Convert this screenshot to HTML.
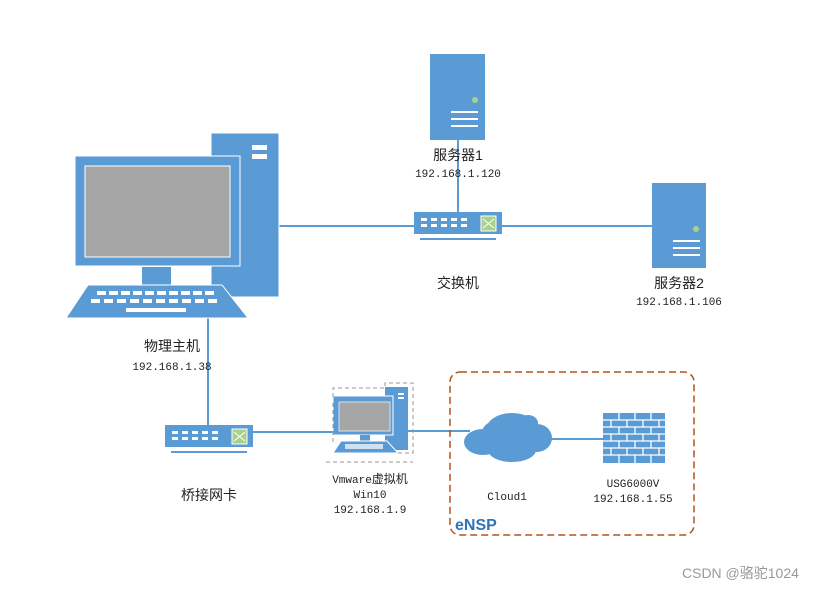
<!DOCTYPE html>
<html><head><meta charset="utf-8"><style>
body{margin:0;background:#fff}
svg text{font-family:"Liberation Mono","Noto Sans CJK SC",monospace;fill:#222}
.cn{font-family:"Liberation Sans","Noto Sans CJK SC",sans-serif;font-size:14px}
.ip{font-size:11px}
</style></head><body>
<svg width="830" height="590" xmlns="http://www.w3.org/2000/svg">
<g stroke="#5b9bd5" stroke-width="2" fill="none">
<line x1="279" y1="226" x2="652" y2="226"/>
<line x1="458" y1="140" x2="458" y2="212"/>
<line x1="208" y1="318" x2="208" y2="426"/>
<line x1="251" y1="432" x2="333" y2="432"/>
<line x1="408" y1="431" x2="470" y2="431"/>
<line x1="548" y1="439" x2="603" y2="439"/>
</g>
<!-- PC -->
<g fill="#5b9bd5">
<rect x="211" y="133" width="68" height="164" stroke="#fff" stroke-width="1"/>
<rect x="252" y="145" width="15" height="5" fill="#fff"/>
<rect x="252" y="154" width="15" height="5" fill="#fff"/>
<rect x="75" y="156" width="165" height="110" stroke="#fff" stroke-width="1"/>
<rect x="85" y="166" width="145" height="91" fill="#a5a5a5" stroke="#fff" stroke-width="1"/>
<rect x="142" y="267" width="29" height="18"/>
<polygon points="88,285 222,285 248,318 66,318" stroke="#fff" stroke-width="1"/>
</g>
<g fill="#fff">
<rect x="97" y="291" width="9" height="4"/><rect x="109" y="291" width="9" height="4"/><rect x="121" y="291" width="9" height="4"/><rect x="133" y="291" width="9" height="4"/><rect x="145" y="291" width="9" height="4"/><rect x="157" y="291" width="9" height="4"/><rect x="169" y="291" width="9" height="4"/><rect x="181" y="291" width="9" height="4"/><rect x="193" y="291" width="9" height="4"/><rect x="205" y="291" width="9" height="4"/>
<rect x="91" y="299" width="9" height="4"/><rect x="104" y="299" width="9" height="4"/><rect x="117" y="299" width="9" height="4"/><rect x="130" y="299" width="9" height="4"/><rect x="143" y="299" width="9" height="4"/><rect x="156" y="299" width="9" height="4"/><rect x="169" y="299" width="9" height="4"/><rect x="182" y="299" width="9" height="4"/><rect x="195" y="299" width="9" height="4"/><rect x="208" y="299" width="9" height="4"/>
<rect x="126" y="308" width="60" height="4"/>
</g>
<!-- servers -->
<g>
<rect x="430" y="54" width="55" height="86" fill="#5b9bd5"/>
<circle cx="475" cy="100" r="3" fill="#a9d18e"/>
<rect x="451" y="111" width="27" height="2" fill="#fff"/><rect x="451" y="118" width="27" height="2" fill="#fff"/><rect x="451" y="125" width="27" height="2" fill="#fff"/>
<rect x="652" y="183" width="54" height="85" fill="#5b9bd5"/>
<circle cx="696" cy="229" r="3" fill="#a9d18e"/>
<rect x="673" y="240" width="27" height="2" fill="#fff"/><rect x="673" y="247" width="27" height="2" fill="#fff"/><rect x="673" y="254" width="27" height="2" fill="#fff"/>
</g>
<!-- switches -->
<g id="sw">
<rect x="414" y="212" width="88" height="22" fill="#5b9bd5"/>
<rect x="420" y="238" width="76" height="2" fill="#5b9bd5"/>
<g fill="#fff">
<rect x="421" y="218" width="6" height="3"/><rect x="431" y="218" width="6" height="3"/><rect x="441" y="218" width="6" height="3"/><rect x="451" y="218" width="6" height="3"/><rect x="461" y="218" width="6" height="3"/>
<rect x="421" y="224" width="6" height="3"/><rect x="431" y="224" width="6" height="3"/><rect x="441" y="224" width="6" height="3"/><rect x="451" y="224" width="6" height="3"/><rect x="461" y="224" width="6" height="3"/>
</g>
<rect x="481" y="216" width="15" height="15" fill="#a9d18e" stroke="#fff" stroke-width="1"/>
<path d="M483 219 L494 228 M483 228 L494 219" stroke="#fff" stroke-width="1"/>
</g>
<use href="#sw" transform="translate(-249,213)"/>
<!-- VM -->
<g>
<rect x="385" y="387" width="23" height="63" fill="#5b9bd5"/>
<rect x="398" y="393" width="6" height="2" fill="#fff"/><rect x="398" y="397" width="6" height="2" fill="#fff"/>
<rect x="333" y="396" width="60" height="39" fill="#5b9bd5" stroke="#fff"/>
<rect x="339" y="402" width="51" height="29" fill="#a5a5a5" stroke="#fff" stroke-width=".7"/>
<rect x="360" y="435" width="10" height="6" fill="#5b9bd5"/>
<polygon points="341,441 387,441 398,453 333,453" fill="#5b9bd5" stroke="#fff"/>
<rect x="345" y="444" width="38" height="5" fill="#fff" opacity=".7"/>
<path d="M333 397 V388 H385 V383 H413 V453 H398 M333 403 V443 M326 462 H413" stroke="#999" stroke-dasharray="4,3" fill="none"/>
</g>
<!-- cloud -->
<g fill="#5b9bd5">
<ellipse cx="512" cy="430" rx="26" ry="17"/>
<ellipse cx="483" cy="442" rx="19" ry="13"/>
<ellipse cx="537" cy="438" rx="15" ry="14"/>
<ellipse cx="512" cy="450" rx="24" ry="12"/>
<ellipse cx="528" cy="423" rx="10" ry="8"/>
<ellipse cx="496" cy="433" rx="14" ry="12"/>
</g>
<!-- firewall -->
<g>
<rect x="603" y="413" width="62" height="50" fill="#5b9bd5"/>
<g stroke="#fff" stroke-width="1.3">
<line x1="603" y1="420" x2="665" y2="420"/><line x1="603" y1="427" x2="665" y2="427"/><line x1="603" y1="434" x2="665" y2="434"/><line x1="603" y1="441" x2="665" y2="441"/><line x1="603" y1="448" x2="665" y2="448"/><line x1="603" y1="455" x2="665" y2="455"/>
<path d="M619 413v7M635 413v7M651 413v7 M611 420v7M627 420v7M643 420v7M659 420v7 M619 427v7M635 427v7M651 427v7 M611 434v7M627 434v7M643 434v7M659 434v7 M619 441v7M635 441v7M651 441v7 M611 448v7M627 448v7M643 448v7M659 448v7 M619 455v8M635 455v8M651 455v8"/>
</g>
</g>
<rect x="450" y="372" width="244" height="163" rx="10" fill="none" stroke="#b4541a" stroke-width="1.5" stroke-dasharray="7,4"/>
<text x="455" y="530" style="font-family:'Liberation Sans',sans-serif;font-weight:bold;font-size:16px;fill:#2e75b6">eNSP</text>
<text x="458" y="160" class="cn" text-anchor="middle">服务器1</text>
<text x="458" y="177" class="ip" text-anchor="middle">192.168.1.120</text>
<text x="458" y="288" class="cn" text-anchor="middle">交换机</text>
<text x="679" y="288" class="cn" text-anchor="middle">服务器2</text>
<text x="679" y="305" class="ip" text-anchor="middle">192.168.1.106</text>
<text x="172" y="351" class="cn" text-anchor="middle">物理主机</text>
<text x="172" y="370" class="ip" text-anchor="middle">192.168.1.38</text>
<text x="209" y="500" class="cn" text-anchor="middle">桥接网卡</text>
<text x="370" y="483" class="ip" text-anchor="middle">Vmware<tspan class="cn" style="font-size:12px">虚拟机</tspan></text>
<text x="370" y="498" class="ip" text-anchor="middle">Win10</text>
<text x="370" y="513" class="ip" text-anchor="middle">192.168.1.9</text>
<text x="507" y="500" class="ip" text-anchor="middle">Cloud1</text>
<text x="633" y="487" class="ip" text-anchor="middle">USG6000V</text>
<text x="633" y="502" class="ip" text-anchor="middle">192.168.1.55</text>
<text x="682" y="578" style="font-family:'Liberation Sans','Noto Sans CJK SC',sans-serif;font-size:14px;fill:#999">CSDN @骆驼1024</text>
</svg>
</body></html>
